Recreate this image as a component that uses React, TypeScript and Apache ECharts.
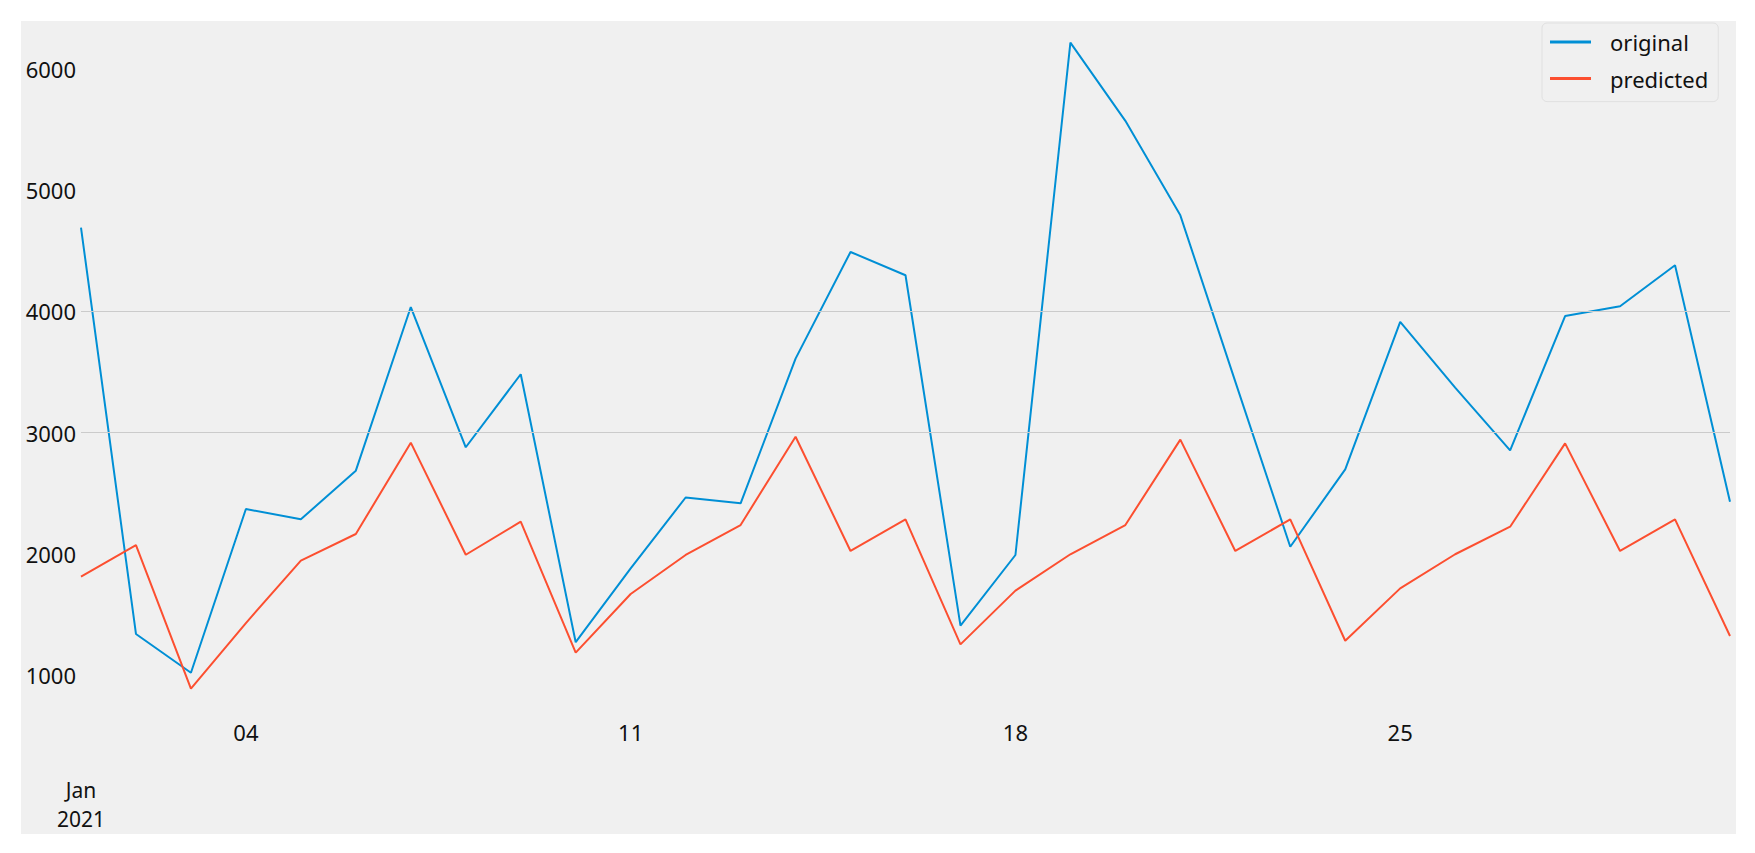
import React, { useEffect, useRef } from 'react';
import * as echarts from 'echarts';

const dates = [
  '2021-01-01', '2021-01-02', '2021-01-03', '2021-01-04', '2021-01-05', '2021-01-06', '2021-01-07',
  '2021-01-08', '2021-01-09', '2021-01-10', '2021-01-11', '2021-01-12', '2021-01-13', '2021-01-14',
  '2021-01-15', '2021-01-16', '2021-01-17', '2021-01-18', '2021-01-19', '2021-01-20', '2021-01-21',
  '2021-01-22', '2021-01-23', '2021-01-24', '2021-01-25', '2021-01-26', '2021-01-27', '2021-01-28',
  '2021-01-29', '2021-01-30', '2021-01-31',
];

const original = [
  4690, 1340, 1020, 2370, 2285, 2686, 4035,
  2879, 3481, 1272, 1880, 2465, 2417, 3610,
  4489, 4297, 1408, 1991, 6215, 5570, 4791,
  3420, 2059, 2697, 3912, 3370, 2853, 3961,
  4041, 4379, 2430,
];

const predicted = [
  1812, 2073, 890, 1430, 1944, 2164, 2917,
  1993, 2266, 1186, 1669, 1991, 2238, 2966,
  2024, 2285, 1254, 1697, 1997, 2238, 2942,
  2024, 2285, 1284, 1716, 1997, 2224, 2911,
  2024, 2285, 1323,
];

const minorTickLabels = ['04', '11', '18', '25'];
const majorMonthLabel = 'Jan';
const majorYearLabel = '2021';
const yTickLabels = [1000, 2000, 3000, 4000, 5000, 6000];
const gridLineValues = [3000, 4000];

const FONT = "'Noto Sans', sans-serif";

function labelAxis(
  margin: number,
  fontSize: number,
  lineHeight: number | undefined,
  formatter: (v: string, i: number) => string,
) {
  return {
    type: 'category',
    data: dates,
    boundaryGap: false,
    position: 'bottom',
    axisLine: { show: false },
    axisTick: { show: false },
    splitLine: { show: false },
    axisLabel: {
      interval: 0,
      margin,
      fontSize,
      lineHeight,
      fontFamily: FONT,
      color: '#111',
      formatter,
    },
  };
}

export default function App() {
  const ref = useRef<HTMLDivElement>(null);

  useEffect(() => {
    document.body.style.margin = '0';
    const chart = echarts.init(ref.current!, null, { renderer: 'svg' });
    chart.setOption({
      animation: false,
      backgroundColor: 'transparent',
      grid: { left: 81, right: 25, top: 26.2, bottom: 141.4, containLabel: false },
      legend: {
        data: ['original', 'predicted'],
        orient: 'vertical',
        left: 1542,
        top: 23,
        icon: 'rect',
        itemWidth: 41,
        itemHeight: 3,
        itemGap: 10.6,
        padding: [6, 10, 10, 8],
        backgroundColor: '#f0f0f0',
        borderColor: '#e0e0e0',
        borderWidth: 1,
        borderRadius: 5,
        textStyle: { fontSize: 22, fontFamily: FONT, color: '#111', lineHeight: 26, padding: [0, 0, 0, 14] },
      },
      xAxis: [
        labelAxis(9, 22, undefined, (v: string) => {
          const d = v.slice(8);
          return minorTickLabels.includes(d) ? d : '';
        }),
        labelAxis(68, 21, 21, (_v: string, i: number) => (i === 0 ? majorMonthLabel : '')),
        labelAxis(97, 21, 21, (_v: string, i: number) => (i === 0 ? majorYearLabel : '')),
      ],
      yAxis: {
        type: 'value',
        min: 700,
        max: 6350,
        interval: 50,
        axisLine: { show: false },
        axisTick: { show: false },
        splitLine: { show: false },
        axisLabel: {
          margin: 5,
          fontSize: 22,
          fontFamily: FONT,
          color: '#111',
          formatter: (v: number) => (yTickLabels.includes(v) ? String(v) : ''),
        },
      },
      series: [
        {
          name: 'grid',
          type: 'line',
          data: [],
          z: 1,
          markLine: {
            silent: true,
            symbol: ['none', 'none'],
            label: { show: false },
            lineStyle: { color: '#cbcbcb', width: 1, type: 'solid' },
            data: gridLineValues.map((v) => ({ yAxis: v })),
          },
        },
        {
          name: 'original',
          type: 'line',
          data: original,
          symbol: 'none',
          z: 3,
          itemStyle: { color: '#008fd5' },
          lineStyle: { color: '#008fd5', width: 2 },
        },
        {
          name: 'predicted',
          type: 'line',
          data: predicted,
          symbol: 'none',
          z: 3,
          itemStyle: { color: '#fc4f30' },
          lineStyle: { color: '#fc4f30', width: 2 },
        },
      ],
    });
    return () => chart.dispose();
  }, []);

  return (
    <div style={{ position: 'relative', width: 1755, height: 853, background: '#ffffff' }}>
      <div style={{ position: 'absolute', left: 21, top: 21, width: 1715, height: 813, background: '#f0f0f0' }} />
      <div ref={ref} style={{ position: 'absolute', left: 0, top: 0, width: 1755, height: 853 }} />
    </div>
  );
}
